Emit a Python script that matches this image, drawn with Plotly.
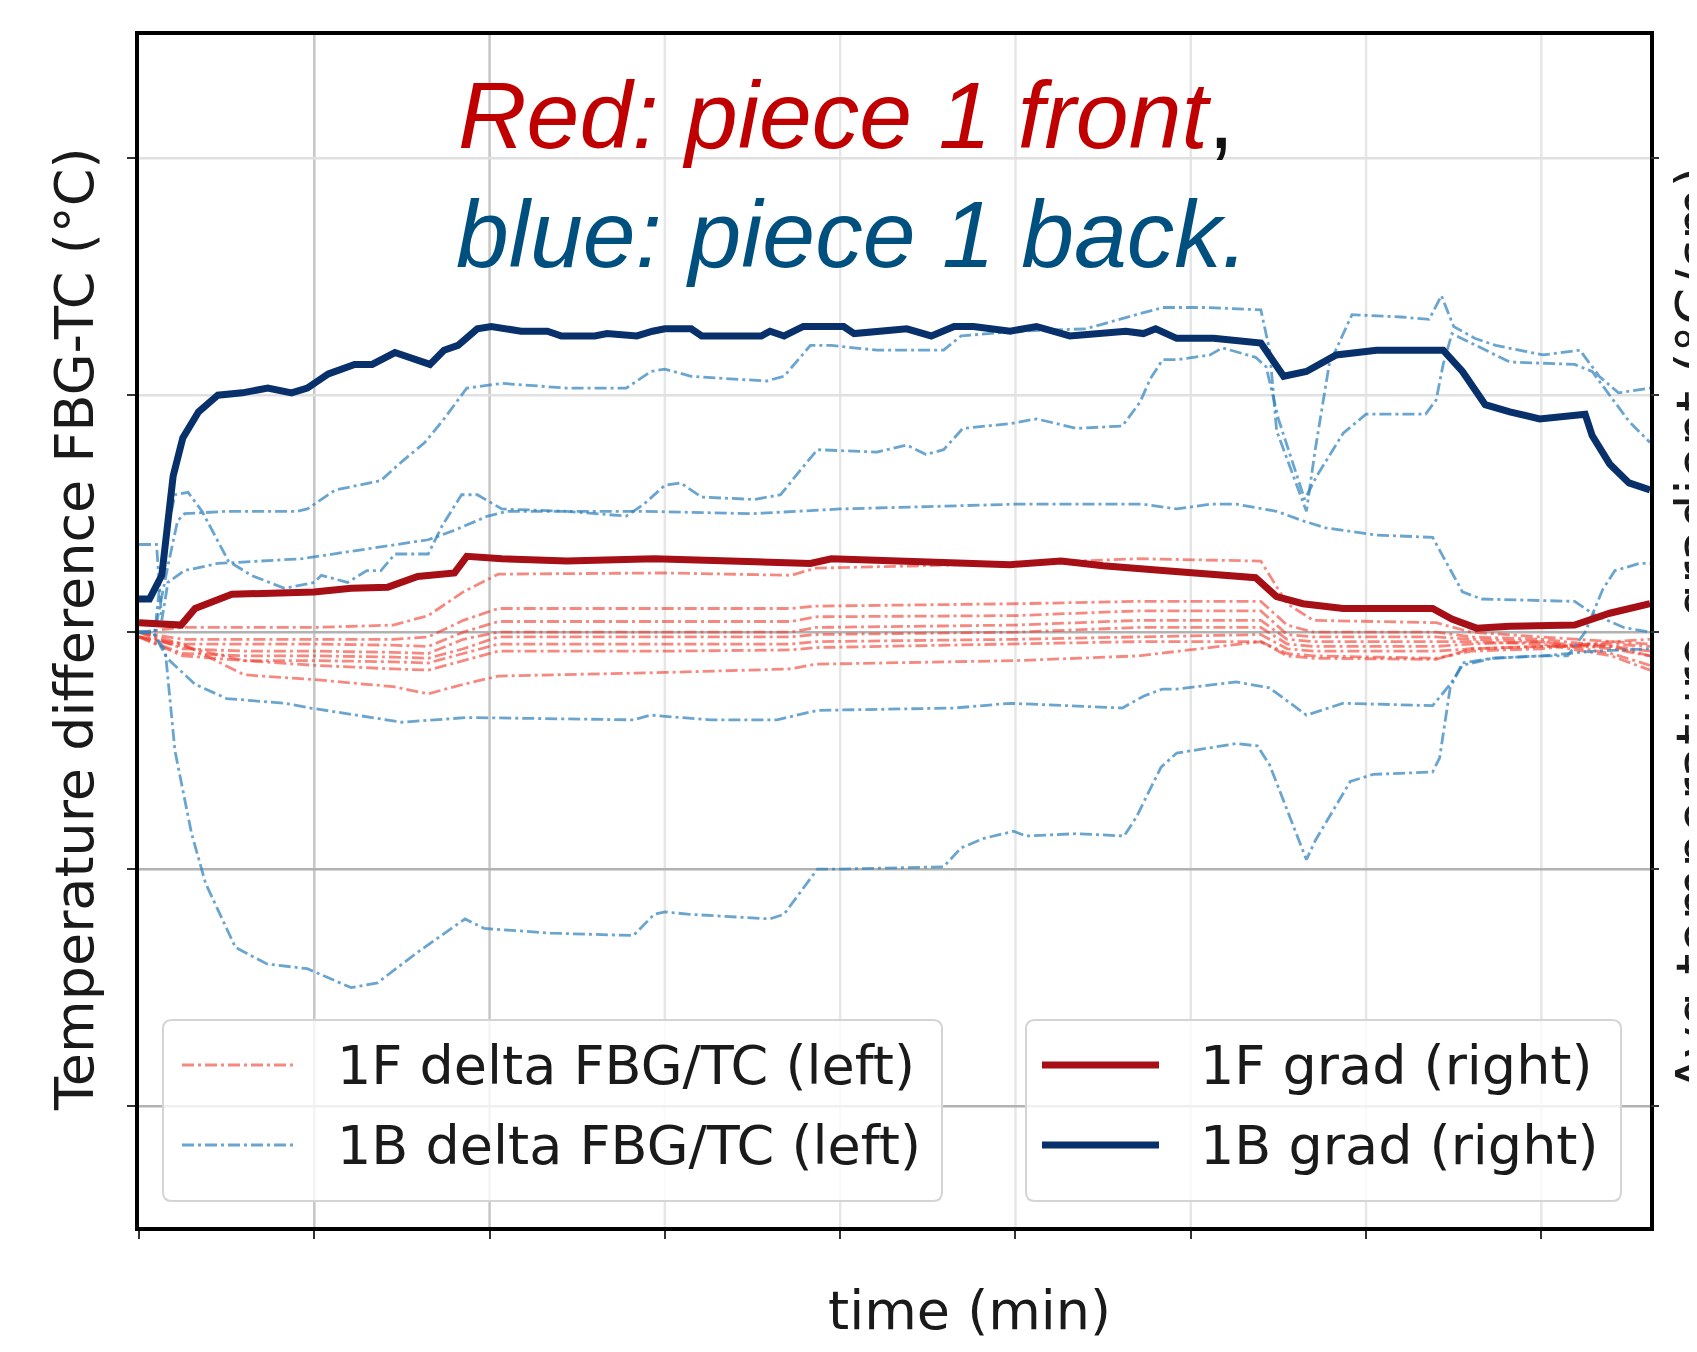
import plotly.graph_objects as go

# ---------------- data ----------------
# time in minutes (grid every 10 min, left edge = 0); values in axis units
# 1B grad (right axis)
g1b_t = [0, 0.6, 1.3, 1.65, 1.95, 2.5, 3.4, 4.5, 5.9, 7.35, 8.7, 9.6, 10.8, 12.3, 13.3, 14.6, 15.5, 16.6, 17.4, 18.2,
         19.3, 20.1, 21.8, 23.3, 24.1, 26.0, 26.7, 28.4, 29.3, 30.0, 31.5, 32.1, 35.5, 36.0, 36.8, 37.9, 40.2, 40.8,
         43.8, 45.2, 46.5, 47.6, 49.7, 51.2, 53.1, 56.3, 57.3, 58.0, 59.2, 61.3, 64.0, 65.3, 66.6, 68.3, 70.6, 73.6,
         74.4, 75.5, 76.8, 78.2, 79.9, 82.5, 82.9, 83.9, 85.0, 86.2]
g1b_v = [0.14, 0.14, 0.24, 0.50, 0.66, 0.82, 0.93, 1.00, 1.01, 1.03, 1.01, 1.03, 1.09, 1.13, 1.13, 1.18, 1.16, 1.13,
         1.19, 1.21, 1.28, 1.29, 1.27, 1.27, 1.25, 1.25, 1.26, 1.25, 1.27, 1.28, 1.28, 1.25, 1.25, 1.27, 1.25, 1.29,
         1.29, 1.26, 1.28, 1.25, 1.29, 1.29, 1.27, 1.29, 1.25, 1.27, 1.26, 1.28, 1.24, 1.24, 1.22, 1.08, 1.10, 1.17,
         1.19, 1.19, 1.19, 1.10, 0.96, 0.93, 0.90, 0.92, 0.83, 0.71, 0.63, 0.60]

# 1F grad (right axis)
g1f_t = [0, 2.4, 3.2, 5.3, 10.0, 12.1, 14.2, 15.9, 18.0, 18.7, 20.7, 24.4, 29.4, 38.3, 39.5, 49.7, 52.6, 55.0, 58.4,
         60.1, 63.7, 64.9, 66.4, 68.7, 73.8, 74.9, 76.3, 78.2, 81.9, 83.9, 86.2]
g1f_v = [0.04, 0.03, 0.10, 0.16, 0.17, 0.185, 0.19, 0.235, 0.25, 0.32, 0.31, 0.30, 0.31, 0.29, 0.31, 0.285, 0.30,
         0.28, 0.26, 0.25, 0.23, 0.15, 0.12, 0.10, 0.10, 0.055, 0.017, 0.025, 0.03, 0.08, 0.12]

# 1B delta FBG/TC (left axis), five sensors
b_a_t = [0, 0.9, 1.65, 2.2, 2.6, 5.0, 9.0, 9.6, 11.2, 13.8, 15.0, 16.3, 17.3, 18.7, 20.7, 24.4, 27.8, 29.2, 30.0,
         31.5, 33.5, 35.8, 36.8, 38.3, 39.5, 42.1, 45.9, 46.9, 50.0, 54.0, 56.9, 58.4, 61.0, 64.0, 64.5, 64.9, 66.6,
         67.1, 67.9, 69.2, 72.0, 73.6, 74.3, 75.0, 76.2, 77.4, 80.1, 82.2, 83.3, 84.4, 86.2]
b_a_v = [0.0, 0.0, 0.28, 0.47, 0.50, 0.51, 0.51, 0.52, 0.60, 0.64, 0.72, 0.80, 0.89, 1.03, 1.05, 1.03, 1.03, 1.10,
         1.11, 1.08, 1.07, 1.06, 1.08, 1.21, 1.21, 1.19, 1.19, 1.25, 1.27, 1.28, 1.34, 1.37, 1.37, 1.36, 1.19, 0.85,
         0.51, 0.77, 1.13, 1.34, 1.33, 1.32, 1.42, 1.29, 1.24, 1.21, 1.17, 1.19, 1.08, 1.01, 1.03]

b_d_t = [0, 0.9, 1.4, 2.05, 2.8, 3.6, 5.1, 6.4, 8.3, 10.0, 10.4, 11.9, 13.0, 13.8, 14.6, 16.5, 17.3, 18.4, 19.3, 20.7,
         24.4, 27.8, 28.8, 30.0, 30.9, 32.1, 35.1, 36.6, 37.8, 38.7, 42.1, 43.8, 44.9, 45.9, 47.0, 49.7, 51.2, 53.5,
         56.1, 57.1, 57.7, 58.4, 59.2, 61.1, 61.8, 63.7, 64.3, 65.0, 66.5, 67.2, 68.7, 70.0, 73.4, 74.0, 74.4, 74.9,
         78.2, 81.9, 82.9, 83.9, 85.0, 86.2]
b_d_v = [0.0, 0.0, 0.35, 0.58, 0.59, 0.51, 0.30, 0.24, 0.185, 0.21, 0.24, 0.21, 0.26, 0.26, 0.33, 0.33, 0.45, 0.58,
         0.58, 0.52, 0.51, 0.49, 0.54, 0.62, 0.63, 0.57, 0.56, 0.58, 0.69, 0.77, 0.76, 0.79, 0.75, 0.77, 0.86, 0.88,
         0.90, 0.86, 0.87, 0.97, 1.07, 1.15, 1.15, 1.17, 1.20, 1.16, 1.12, 0.90, 0.56, 0.66, 0.84, 0.92, 0.92, 0.98,
         1.13, 1.26, 1.14, 1.13, 1.10, 1.00, 0.89, 0.80]

b_c_t = [0, 1.0, 1.3, 1.65, 2.6, 4.5, 9.3, 11.9, 14.6, 16.5, 18.0, 19.9, 21.0, 28.8, 35.0, 40.0, 45.0, 50.0, 57.3,
         59.2, 61.1, 62.6, 64.9, 66.4, 67.7, 70.6, 73.8, 75.5, 76.6, 81.9, 83.0, 84.7, 86.2]
b_c_v = [0.37, 0.37, 0.05, 0.21, 0.26, 0.29, 0.31, 0.34, 0.37, 0.39, 0.43, 0.49, 0.51, 0.51, 0.50, 0.52, 0.53, 0.54,
         0.54, 0.52, 0.54, 0.54, 0.51, 0.47, 0.44, 0.41, 0.40, 0.17, 0.14, 0.13, 0.075, 0.02, 0.0]

b_m_t = [0, 0.8, 1.6, 3.2, 5.0, 8.3, 9.8, 11.9, 15.0, 18.7, 22.5, 28.2, 29.2, 32.6, 36.4, 38.7, 46.5, 49.7, 56.1,
         57.3, 58.4, 59.2, 62.6, 64.5, 66.6, 68.7, 73.8, 74.8, 75.5, 77.2, 80.0, 81.5, 82.5, 83.5, 84.2, 85.6, 86.2]
b_m_v = [0.0, 0.0, -0.11, -0.22, -0.28, -0.30, -0.32, -0.345, -0.38, -0.36, -0.365, -0.37, -0.35, -0.37, -0.37,
         -0.33, -0.32, -0.30, -0.32, -0.27, -0.24, -0.24, -0.21, -0.235, -0.35, -0.30, -0.31, -0.22, -0.14, -0.11,
         -0.10, -0.10, 0.0, 0.18, 0.26, 0.29, 0.29]

b_l_t = [0, 0.8, 1.5, 2.05, 3.0, 3.8, 5.5, 7.3, 9.6, 12.1, 13.6, 15.9, 18.6, 19.7, 23.5, 28.2, 29.4, 30.0, 31.3, 36.0,
         36.8, 38.7, 39.8, 45.9, 46.9, 48.2, 49.9, 50.6, 53.5, 56.2, 56.9, 58.3, 59.2, 62.6, 63.8, 64.5, 66.6, 67.1,
         69.1, 70.4, 73.8, 74.2, 74.8, 75.5, 77.2, 80.1, 83.0, 86.2]
b_l_v = [0.0, 0.0, -0.08, -0.50, -0.85, -1.06, -1.33, -1.40, -1.42, -1.50, -1.48, -1.35, -1.21, -1.25, -1.27, -1.28,
         -1.19, -1.18, -1.19, -1.21, -1.19, -1.00, -1.00, -0.99, -0.91, -0.87, -0.84, -0.86, -0.85, -0.86, -0.78,
         -0.57, -0.51, -0.47, -0.48, -0.56, -0.96, -0.88, -0.63, -0.60, -0.59, -0.53, -0.235, -0.13, -0.11, -0.10,
         -0.08, -0.07]

# 1F delta FBG/TC (left axis), eight sensors sharing one time base
r_t = [0, 2.5, 6.0, 10.0, 14.5, 16.5, 18.5, 20.5, 30.0, 37.2, 38.6, 50.0, 57.0, 64.0, 65.5, 67.0, 74.0, 76.0, 80.0,
       84.0, 86.2]
r1_v = [0.00, 0.02, 0.02, 0.02, 0.03, 0.07, 0.17, 0.245, 0.25, 0.24, 0.27, 0.29, 0.31, 0.30, 0.12, 0.05, 0.04, 0.00,
        -0.02, -0.04, -0.05]
r2_v = [0.00, -0.03, -0.03, -0.03, -0.03, -0.02, 0.05, 0.10, 0.10, 0.10, 0.11, 0.12, 0.13, 0.13, 0.03, 0.00, 0.00,
        -0.02, -0.03, -0.06, -0.10]
r3_v = [0.00, -0.05, -0.05, -0.05, -0.055, -0.06, 0.00, 0.045, 0.045, 0.045, 0.065, 0.07, 0.09, 0.09, -0.01, -0.02,
        -0.02, -0.03, -0.04, -0.09, -0.14]
r4_v = [0.00, -0.07, -0.08, -0.08, -0.085, -0.09, -0.03, 0.00, 0.00, 0.00, 0.02, 0.03, 0.05, 0.05, -0.03, -0.04,
        -0.04, -0.04, -0.05, -0.10, -0.16]
r5_v = [-0.02, -0.09, -0.10, -0.10, -0.105, -0.11, -0.07, -0.02, -0.02, -0.02, -0.01, 0.00, 0.02, 0.02, -0.05,
        -0.06, -0.06, -0.05, -0.04, -0.07, -0.10]
r6_v = [-0.02, -0.10, -0.12, -0.12, -0.125, -0.13, -0.09, -0.05, -0.05, -0.05, -0.04, -0.03, -0.02, -0.01, -0.07,
        -0.08, -0.08, -0.07, -0.06, -0.05, -0.06]
r7_v = [-0.02, -0.06, -0.12, -0.14, -0.155, -0.16, -0.12, -0.08, -0.08, -0.075, -0.065, -0.05, -0.04, -0.04, -0.09,
        -0.10, -0.11, -0.08, -0.07, -0.04, -0.03]
r8_v = [-0.02, -0.05, -0.18, -0.20, -0.23, -0.26, -0.22, -0.185, -0.17, -0.155, -0.135, -0.12, -0.10, -0.04, -0.10,
        -0.11, -0.115, -0.07, -0.06, -0.06, -0.08]

tick_x = [0, 10, 20, 30, 40, 50, 60, 70, 80]
tick_y = [-2, -1, 0, 1, 2]
dark_grid_x = [10, 20]
dark_grid_y = [0, -1, -2]

legend_left = ["1F delta FBG/TC (left)", "1B delta FBG/TC (left)"]
legend_right = ["1F grad (right)", "1B grad (right)"]

# ---------------- styling ----------------
W, H = 1697, 1352
L, R, T, B = 131, 1642, 27, 1219
RED_DD = "rgba(239,59,44,0.6)"
BLUE_DD = "rgba(49,130,189,0.72)"
RED_G = "#a50f15"
BLUE_G = "#08306b"
DASHDOT = "12px,4px,3px,4px"
FONT = "DejaVu Sans"
TXT = "#1a1a1a"


def px_x(p):
    return (p - L) / (R - L)


def px_y(p):
    return (B - p) / (B - T)


fig = go.Figure()

for v in [r1_v, r2_v, r3_v, r4_v, r5_v, r6_v, r7_v, r8_v]:
    fig.add_trace(go.Scatter(x=r_t, y=v, mode="lines", showlegend=False, hoverinfo="skip",
                             line=dict(color=RED_DD, width=2.8, dash=DASHDOT)))

for t, v in [(b_a_t, b_a_v), (b_d_t, b_d_v), (b_c_t, b_c_v), (b_m_t, b_m_v), (b_l_t, b_l_v)]:
    fig.add_trace(go.Scatter(x=t, y=v, mode="lines", showlegend=False, hoverinfo="skip",
                             line=dict(color=BLUE_DD, width=2.8, dash=DASHDOT)))

fig.add_trace(go.Scatter(x=g1f_t, y=g1f_v, mode="lines", yaxis="y2", showlegend=False,
                         line=dict(color=RED_G, width=7)))
fig.add_trace(go.Scatter(x=g1b_t, y=g1b_v, mode="lines", yaxis="y2", showlegend=False,
                         line=dict(color=BLUE_G, width=7)))

# grid lines (drawn as background lines at the tick positions)
shapes = []
for xv in tick_x[1:]:
    col = "#c6c6c6" if xv in dark_grid_x else "#e6e6e6"
    shapes.append(dict(type="line", xref="x", yref="paper", x0=xv, x1=xv, y0=0, y1=1, layer="below",
                       line=dict(color=col, width=2.5)))
for yv in tick_y:
    col = "#b2b2b2" if yv in dark_grid_y else "#e0e0e0"
    shapes.append(dict(type="line", xref="paper", yref="y", x0=0, x1=1, y0=yv, y1=yv, layer="below",
                       line=dict(color=col, width=2.5)))


def rounded_box(x0, y0, x1, y1, r=9):
    rx, ry = r / (R - L), r / (B - T)
    a, b, c, d = px_x(x0), px_y(y1), px_x(x1), px_y(y0)  # left, bottom, right, top in paper
    return (f"M{a + rx},{b} L{c - rx},{b} Q{c},{b} {c},{b + ry} L{c},{d - ry} Q{c},{d} {c - rx},{d} "
            f"L{a + rx},{d} Q{a},{d} {a},{d - ry} L{a},{b + ry} Q{a},{b} {a + rx},{b} Z")


for (x0, x1) in [(155, 934), (1018, 1613)]:
    shapes.append(dict(type="path", xref="paper", yref="paper", path=rounded_box(x0, 1012, x1, 1193),
                       fillcolor="rgba(255,255,255,0.8)", line=dict(color="#d4d4d4", width=2), layer="above"))

rows_y = [1057, 1137]
samples = [
    (174, 287, rows_y[0], RED_DD, 3, DASHDOT),
    (174, 287, rows_y[1], BLUE_DD, 3, DASHDOT),
    (1034, 1151, rows_y[0], RED_G, 7, "solid"),
    (1034, 1151, rows_y[1], BLUE_G, 7, "solid"),
]
for x0, x1, yy, col, wd, ds in samples:
    shapes.append(dict(type="line", xref="paper", yref="paper", x0=px_x(x0), x1=px_x(x1), y0=px_y(yy), y1=px_y(yy),
                       line=dict(color=col, width=wd, dash=ds), layer="above"))

ann = []
ann.append(dict(xref="paper", yref="paper", x=px_x(448), y=px_y(107), xanchor="left", yanchor="middle",
                showarrow=False,
                text="<i><span style='color:#c00000'>Red: piece 1 front</span></i>,",
                font=dict(family="Liberation Sans", size=95, color="#111111")))
ann.append(dict(xref="paper", yref="paper", x=px_x(446), y=px_y(226), xanchor="left", yanchor="middle",
                showarrow=False,
                text="<i>blue: piece 1 back.</i>",
                font=dict(family="Liberation Sans", size=95, color="#00507f")))
ann.append(dict(xref="paper", yref="paper", x=px_x(66), y=px_y(621), textangle=-90, showarrow=False,
                xanchor="center", yanchor="middle", text="Temperature difference FBG-TC (°C)",
                font=dict(family=FONT, size=54, color=TXT)))
ann.append(dict(xref="paper", yref="paper", x=px_x(1687), y=px_y(621), textangle=-90, showarrow=False,
                xanchor="center", yanchor="middle", text="Avg temperature gradient (°C/cm)",
                font=dict(family=FONT, size=54, color=TXT)))
ann.append(dict(xref="paper", yref="paper", x=px_x(962), y=px_y(1302), showarrow=False,
                xanchor="center", yanchor="middle", text="time (min)",
                font=dict(family=FONT, size=54, color=TXT)))
for i, txt in enumerate(legend_left):
    ann.append(dict(xref="paper", yref="paper", x=px_x(327), y=px_y(rows_y[i]), showarrow=False,
                    xanchor="left", yanchor="middle", text=txt, font=dict(family=FONT, size=54, color=TXT)))
for i, txt in enumerate(legend_right):
    ann.append(dict(xref="paper", yref="paper", x=px_x(1190), y=px_y(rows_y[i]), showarrow=False,
                    xanchor="left", yanchor="middle", text=txt, font=dict(family=FONT, size=54, color=TXT)))

axis_common = dict(showticklabels=False, ticks="outside", ticklen=8, tickwidth=2, tickcolor="#333333",
                   zeroline=False, showgrid=False)

fig.update_layout(
    width=W, height=H,
    margin=dict(l=L, r=W - R, t=T, b=H - B, pad=0),
    paper_bgcolor="white", plot_bgcolor="white",
    showlegend=False,
    xaxis=dict(range=[0, 86.2], tickvals=tick_x, showline=True, mirror=True, linecolor="black", linewidth=3.5,
               **axis_common),
    yaxis=dict(range=[-2.51, 2.52], tickvals=tick_y, showline=True, mirror=True, linecolor="black", linewidth=3.5,
               **axis_common),
    yaxis2=dict(range=[-2.51, 2.52], tickvals=tick_y, overlaying="y", side="right", showline=False,
                **axis_common),
    shapes=shapes,
    annotations=ann,
)

fig.write_html("out.html")
